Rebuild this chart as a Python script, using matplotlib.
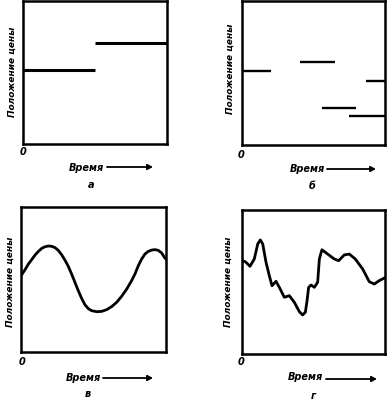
import matplotlib
matplotlib.use("Agg")
import matplotlib.pyplot as plt

W, H = 388, 402

# ---- data (axes in 0..100 units) ----
a_seg_y = [51.7, 70.6]
a_seg_x0 = [0, 50]
a_seg_x1 = [50, 100]

b_seg_y = [51.4, 57.6, 44.4, 25.7, 20.1]
b_seg_x0 = [0, 40.6, 86.7, 56.0, 74.8]
b_seg_x1 = [20.3, 65.0, 100, 79.7, 100]

v_x = [0, 2.8, 5.1, 7.4, 9.7, 12.0, 14.3, 16.6, 18.8, 21.1, 23.4, 25.7, 28.0, 30.3,
       32.6, 34.9, 37.2, 39.5, 41.8, 44.1, 46.4, 48.7, 52.2, 55.6, 59.1, 62.5, 66.0,
       69.4, 72.9, 76.3, 78.6, 80.9, 83.2, 85.5, 87.8, 90.1, 92.4, 94.7, 97.0, 98.9, 100]
v_y = [52.6, 56.8, 60.7, 63.7, 66.9, 69.4, 71.5, 72.6, 73.1, 72.9, 72.0, 70.1, 67.1, 63.4,
       59.1, 53.8, 48.0, 42.3, 37.0, 32.6, 29.9, 28.5, 27.8, 28.0, 29.2, 31.3, 34.3,
       38.4, 43.4, 49.2, 53.8, 59.5, 64.1, 67.6, 69.4, 70.3, 70.6, 70.1, 68.3, 65.3, 64.0]

g_x = [0, 2.3, 5.6, 8.6, 11, 12.8, 14.5, 16.8, 19.1, 21, 23.8, 26.1, 29.6, 33.1,
       36.6, 40.1, 42.4, 44.3, 45.5, 46.6, 48.3, 50.6, 52.9, 54.1, 55.9, 59.9,
       64.5, 67.6, 71.5, 75, 79.2, 84.4, 89, 92.5, 95.9, 100]
g_y = [64.8, 64.1, 60.9, 66, 76.4, 79.2, 76.4, 63.7, 54.4, 47.4, 50.5, 46.3, 39.4, 40.5,
       35.9, 29.4, 27.1, 29, 37, 46.3, 47.9, 46.3, 49.8, 66, 72.4, 69.4,
       66, 64.8, 68.8, 69.4, 66, 59, 50.2, 48.6, 50.9, 53]

ylabel = "Положение цены"
xlabel = "Время"
panel_letters = ["а", "б", "в", "г"]


def fx(x):
    return x / W


def fy(y):
    return 1 - y / H


def make_ax(fig, x0, y0, x1, y1):
    ax = fig.add_axes([fx(x0), fy(y1), fx(x1) - fx(x0), fy(y0) - fy(y1)])
    ax.set_xlim(0, 100)
    ax.set_ylim(0, 100)
    ax.set_xticks([])
    ax.set_yticks([])
    for s in ax.spines.values():
        s.set_linewidth(1.8)
        s.set_color("black")
    return ax


def decorate(fig, ylab_xy, zero_xy, word_xy, arrow_x0, arrow_x1, arrow_y, letter_xy, letter):
    tk = dict(fontweight="bold", fontstyle="italic", color="black")
    fig.text(fx(ylab_xy[0]), fy(ylab_xy[1]), ylabel, rotation=90, ha="center",
             va="center", fontsize=6.5, **tk)
    fig.text(fx(zero_xy[0]), fy(zero_xy[1]), "0", ha="center", va="center",
             fontsize=7, **tk)
    fig.text(fx(word_xy[0]), fy(word_xy[1]), xlabel, ha="center", va="center",
             fontsize=7, **tk)
    fig.text(fx(letter_xy[0]), fy(letter_xy[1]), letter, ha="center", va="center",
             fontsize=7, **tk)
    fig.add_artist(matplotlib.patches.FancyArrowPatch(
        (fx(arrow_x0), fy(arrow_y)), (fx(arrow_x1), fy(arrow_y)),
        transform=fig.transFigure, arrowstyle="-|>,head_length=3,head_width=1.6",
        color="black", linewidth=1.3, shrinkA=0, shrinkB=0))


fig = plt.figure(figsize=(W / 100, H / 100), dpi=100)
fig.patch.set_facecolor("white")

# panel а
ax_a = make_ax(fig, 23, 2, 167, 145)
ax_a.hlines(a_seg_y, a_seg_x0, a_seg_x1, colors="black", linewidth=2.2)
decorate(fig, (12, 72), (23, 152), (86, 168), 107, 153, 168, (91, 185), panel_letters[0])

# panel б
ax_b = make_ax(fig, 242, 2, 385, 146)
ax_b.hlines(b_seg_y, b_seg_x0, b_seg_x1, colors="black", linewidth=1.7)
decorate(fig, (230, 69), (241, 155), (307, 169), 327, 376, 170, (312, 186), panel_letters[1])

# panel в
ax_v = make_ax(fig, 21, 208, 166, 353)
ax_v.plot(v_x, v_y, color="black", linewidth=2.0, solid_joinstyle="round",
          solid_capstyle="round")
decorate(fig, (10, 282), (22, 362), (83, 378), 103, 153, 379, (88, 394), panel_letters[2])

# panel г
ax_g = make_ax(fig, 242, 211, 385, 355)
ax_g.plot(g_x, g_y, color="black", linewidth=2.0, solid_joinstyle="round",
          solid_capstyle="round")
decorate(fig, (228, 282), (241, 362), (305, 377), 326, 377, 380, (313, 396), panel_letters[3])

fig.savefig("out.png", dpi=100, facecolor="white")
